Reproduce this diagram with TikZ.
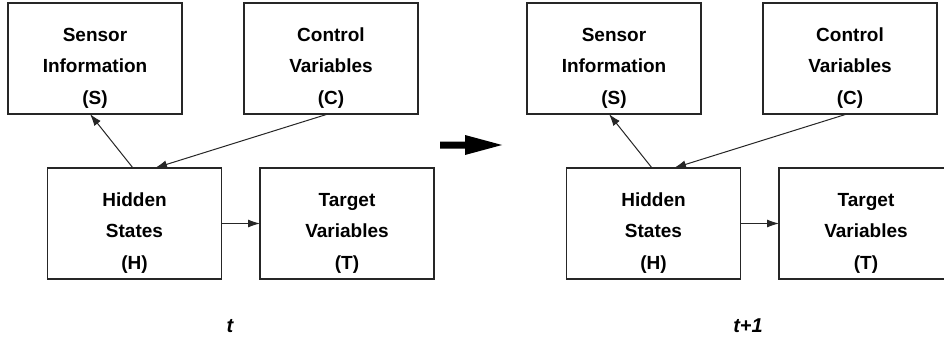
\documentclass[tikz,border=0pt]{standalone}
\usepackage{fontspec}
\setmainfont{Liberation Sans}
\usetikzlibrary{arrows.meta}
\tikzset{
  box/.style={draw=black!85, line width=1.1pt, minimum width=174pt, minimum height=111pt, inner sep=0pt, outer sep=0pt},
  boxtext/.style={font=\bfseries\fontsize{19}{31.5}\selectfont, align=center, text=black},
  conn/.style={draw=black!85, line width=1pt, -{Latex[length=12pt,width=8pt]}},
  timelabel/.style={font=\bfseries\itshape\fontsize{20}{24}\selectfont, inner sep=0pt}
}
\newcommand{\panel}[2]{%
  \begin{scope}[xshift=#1]
    \node[box, label={[boxtext, yshift=-9.5pt]center:Sensor\\Information\\(S)}] (S#2) at (95,58.5) {};
    \node[box, label={[boxtext, yshift=-9.5pt]center:Control\\Variables\\(C)}] (C#2) at (331,58.5) {};
    \node[box, label={[boxtext, yshift=-9.5pt]center:Hidden\\States\\(H)}] (H#2) at (134.5,223.5) {};
    \node[box, label={[boxtext, yshift=-9.5pt]center:Target\\Variables\\(T)}] (T#2) at (347,223.5) {};
    \draw[conn] ([xshift=-1.5pt]H#2.north) -- ([xshift=-5pt]S#2.south);
    \draw[conn] ([xshift=-3pt]C#2.south) -- ([xshift=20.5pt]H#2.north);
    \draw[conn] (H#2.east) -- (T#2.west);
  \end{scope}}
\begin{document}
\begin{tikzpicture}[x=1pt,y=-1pt]
  \useasboundingbox (0,0) rectangle (944,342);
  \clip (0,0) rectangle (944,342);
  \fill[white] (0,0) rectangle (944,342);
  \panel{0pt}{1}
  \panel{519pt}{2}
  \node[timelabel] (tA) at (230,326) {t};
  \node[timelabel] (tB) at (748,326) {t+1};
  \coordinate (bigA) at (440,145);
  \fill[black] (bigA) ++(0,-3.5) -- ++(25,0) -- ++(0,-6.5) -- (502,145) -- (465,155) -- ++(0,-6.5) -- ++(-25,0) -- cycle;
\end{tikzpicture}
\end{document}
